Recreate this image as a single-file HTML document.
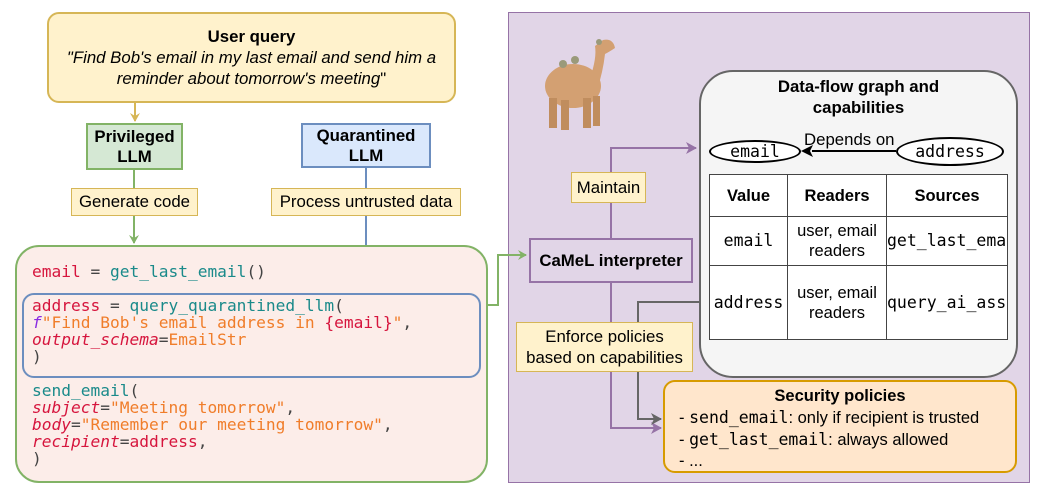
<!DOCTYPE html>
<html><head><meta charset="utf-8"><style>
*{margin:0;padding:0;box-sizing:border-box}
body{width:1042px;height:494px;background:#fff;position:relative;overflow:hidden;font-family:"Liberation Sans",sans-serif;color:#000}
.a{position:absolute}
.c{display:flex;align-items:center;justify-content:center;text-align:center;flex-direction:column}
.lbl{background:#fff2cc;border:1px solid #d6b656;font-size:16.8px}
.mono{font-family:"DejaVu Sans Mono","Liberation Mono",monospace}
.code{font-family:"DejaVu Sans Mono","Liberation Mono",monospace;font-size:16.2px;line-height:17px;white-space:pre;position:absolute;left:32px}
.r{color:#d6153d}.t{color:#1a8a8a}.o{color:#f07d2a}.p{color:#8a2be2}.k{color:#444}
i{font-style:italic}
table{border-collapse:collapse;background:#fff}
td{border:1px solid #444;text-align:center;font-size:16.5px;line-height:20px;overflow:hidden;white-space:nowrap}
td.mono{font-size:16.5px}
</style></head><body>
<div class="a" style="left:508px;top:12px;width:522px;height:471px;background:#e1d5e7;border:1px solid #9673a6"></div>

<div class="a c" style="left:47px;top:12px;width:409px;height:91px;background:#fff2cc;border:2px solid #d6b656;border-radius:12px;font-size:16.8px;line-height:21px">
<b>User query</b><div><i>"Find Bob's email in my last email and send him a<br>reminder about tomorrow's meeting</i>"</div></div>

<div class="a c" style="left:86px;top:123px;width:97px;height:47px;background:#d5e8d4;border:2px solid #82b366;font-weight:bold;font-size:16.8px;line-height:20px">Privileged<br>LLM</div>
<div class="a c" style="left:301px;top:123px;width:130px;height:45px;background:#dae8fc;border:2px solid #6c8ebf;font-weight:bold;font-size:16.8px;line-height:20px">Quarantined<br>LLM</div>

<svg class="a" style="left:0;top:0" width="1042" height="494">
<defs>
<marker id="ay" markerWidth="10" markerHeight="10" refX="8" refY="5" orient="auto" markerUnits="userSpaceOnUse"><path d="M0,0 L9,5 L0,10 L3,5z" fill="#d6b656"/></marker>
<marker id="ag" markerWidth="10" markerHeight="10" refX="8" refY="5" orient="auto" markerUnits="userSpaceOnUse"><path d="M0,0 L9,5 L0,10 L3,5z" fill="#82b366"/></marker>
<marker id="ab" markerWidth="10" markerHeight="10" refX="8" refY="5" orient="auto" markerUnits="userSpaceOnUse"><path d="M0,0 L9,5 L0,10 L3,5z" fill="#6c8ebf"/></marker>
<marker id="ap" markerWidth="12" markerHeight="12" refX="10" refY="6" orient="auto" markerUnits="userSpaceOnUse"><path d="M0,0 L11,6 L0,12 L3,6z" fill="#9673a6"/></marker>
<marker id="ak" markerWidth="12" markerHeight="12" refX="10" refY="6" orient="auto" markerUnits="userSpaceOnUse"><path d="M0,0 L11,6 L0,12 L3,6z" fill="#666"/></marker>
</defs>
<line x1="135" y1="103" x2="135" y2="121" stroke="#d6b656" stroke-width="2" marker-end="url(#ay)"/>
<line x1="134" y1="170" x2="134" y2="243" stroke="#82b366" stroke-width="2" marker-end="url(#ag)"/>
<line x1="366" y1="168" x2="366" y2="291" stroke="#6c8ebf" stroke-width="2" marker-end="url(#ab)"/>
<polyline points="488,305 498,305 498,255 526,255" fill="none" stroke="#82b366" stroke-width="2" marker-end="url(#ag)"/>
<polyline points="611,238 611,148 696,148" fill="none" stroke="#9673a6" stroke-width="2" marker-end="url(#ap)"/>
<polyline points="611,283 611,428 661,428" fill="none" stroke="#9673a6" stroke-width="2" marker-end="url(#ap)"/>
<polyline points="699,302 638,302 638,419 661,419" fill="none" stroke="#666" stroke-width="2" marker-end="url(#ak)"/>
</svg>

<div class="a c lbl" style="left:71px;top:188px;width:127px;height:28px">Generate code</div>
<div class="a c lbl" style="left:271px;top:188px;width:190px;height:28px">Process untrusted data</div>

<div class="a" style="left:15px;top:245px;width:473px;height:238px;background:#fcede9;border:2px solid #82b366;border-radius:24px"></div>
<div class="a" style="left:22px;top:293px;width:459px;height:85px;border:2px solid #6c8ebf;border-radius:12px"></div>
<div class="code" style="top:263px"><span class="r">email</span> <span class="k">=</span> <span class="t">get_last_email</span><span class="k">()</span></div>
<div class="code" style="top:297px"><span class="r">address</span> <span class="k">=</span> <span class="t">query_quarantined_llm</span><span class="k">(</span>
<i class="p">f</i><span class="o">"Find Bob's email address in </span><span class="r">{email}</span><span class="o">"</span><span class="k">,</span>
<i class="r">output_schema</i><span class="k">=</span><span class="o">EmailStr</span>
<span class="k">)</span></div>
<div class="code" style="top:382px"><span class="t">send_email</span><span class="k">(</span>
<i class="r">subject</i><span class="k">=</span><span class="o">"Meeting tomorrow"</span><span class="k">,</span>
<i class="r">body</i><span class="k">=</span><span class="o">"Remember our meeting tomorrow"</span><span class="k">,</span>
<i class="r">recipient</i><span class="k">=</span><span class="r">address</span><span class="k">,</span>
<span class="k">)</span></div>

<svg class="a" style="left:535px;top:28px" width="100" height="110" viewBox="0 0 100 110">
<ellipse cx="38" cy="58" rx="28" ry="22" fill="#d3a072"/>
<path d="M55,50 Q62,30 60,18 L68,12 Q78,10 80,20 Q74,24 70,26 Q68,44 62,62z" fill="#d3a072"/>
<rect x="14" y="70" width="8" height="30" fill="#c08d5e"/><rect x="26" y="72" width="8" height="30" fill="#c08d5e"/>
<rect x="48" y="70" width="8" height="30" fill="#c08d5e"/><rect x="58" y="68" width="7" height="30" fill="#c08d5e"/>
<circle cx="28" cy="36" r="4" fill="#9a9a7a"/><circle cx="40" cy="32" r="4" fill="#9a9a7a"/><circle cx="64" cy="14" r="3" fill="#9a9a7a"/>
</svg>

<div class="a c lbl" style="left:571px;top:172px;width:75px;height:31px">Maintain</div>
<div class="a c" style="left:529px;top:238px;width:164px;height:45px;background:#e1d5e7;border:2px solid #9673a6;font-weight:bold;font-size:16.8px">CaMeL interpreter</div>
<div class="a c lbl" style="left:516px;top:322px;width:177px;height:50px;line-height:21px">Enforce policies<br>based on capabilities</div>

<div class="a" style="left:699px;top:70px;width:319px;height:308px;background:#f5f5f5;border:2px solid #666;border-radius:34px"></div>
<div class="a c" style="left:699px;top:76px;width:319px;font-weight:bold;font-size:16.8px;line-height:21px">Data-flow graph and<br>capabilities</div>
<div class="a" style="left:804px;top:130px;font-size:16.8px">Depends on</div>
<svg class="a" style="left:0;top:0" width="1042" height="494">
<line x1="896" y1="151" x2="812" y2="151" stroke="#000" stroke-width="2"/>
<path d="M801,151 L813,145 L810,151 L813,157z" fill="#000"/>
</svg>
<div class="a c mono" style="left:709px;top:140px;width:92px;height:23px;border:2px solid #000;border-radius:50%;background:#fff;font-size:16.5px">email</div>
<div class="a c mono" style="left:896px;top:137px;width:108px;height:29px;border:2px solid #000;border-radius:50%;background:#fff;font-size:16.5px">address</div>
<table class="a" style="left:709px;top:174px;width:298px;table-layout:fixed">
<colgroup><col style="width:78px"><col style="width:99px"><col style="width:121px"></colgroup>
<tr style="height:42px"><td><b>Value</b></td><td><b>Readers</b></td><td><b>Sources</b></td></tr>
<tr style="height:49px"><td class="mono">email</td><td>user, email<br>readers</td><td class="mono" style="text-align:left;text-overflow:clip">get_last_email</td></tr>
<tr style="height:74px"><td class="mono">address</td><td>user, email<br>readers</td><td class="mono" style="text-align:left;text-overflow:clip">query_ai_assistant</td></tr>
</table>

<div class="a" style="left:663px;top:380px;width:354px;height:93px;background:#ffe6cc;border:2px solid #d79b00;border-radius:12px;padding:4px 0 0 14px;font-size:16.5px;line-height:21px">
<div style="text-align:center;font-weight:bold;margin-left:-14px">Security policies</div>
<div>- <span class="mono" style="font-size:16.5px">send_email</span>: only if recipient is trusted</div>
<div>- <span class="mono" style="font-size:16.5px">get_last_email</span>: always allowed</div>
<div>- ...</div>
</div>
</body></html>
